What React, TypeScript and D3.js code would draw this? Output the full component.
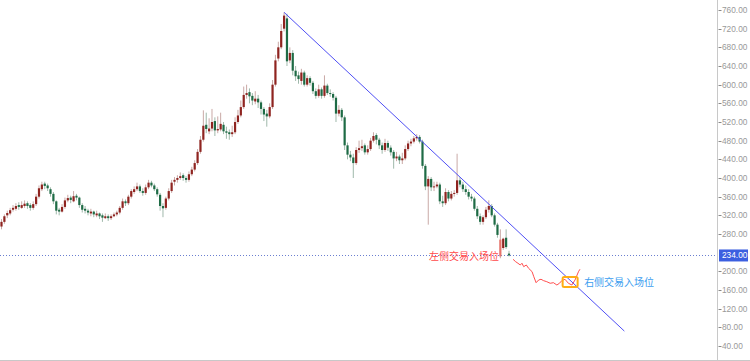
import React from "react";
import * as d3 from "d3";

// [open, high, low, close]
const candles: [number, number, number, number][] = [
  [296, 312, 290, 306], [306, 322, 302, 318], [320, 330, 314, 325], [324, 336, 320, 331],
  [332, 342, 328, 336], [334, 346, 330, 340], [342, 348, 332, 338], [336, 350, 334, 342],
  [340, 352, 336, 345], [346, 350, 334, 340], [342, 346, 330, 336], [336, 350, 332, 344],
  [344, 366, 340, 360], [360, 384, 356, 378], [376, 392, 372, 386], [388, 392, 376, 383],
  [384, 388, 372, 378], [376, 380, 360, 366], [366, 370, 344, 350], [350, 352, 322, 330],
  [332, 336, 320, 328], [328, 344, 326, 338], [338, 358, 334, 352], [352, 364, 348, 357],
  [358, 362, 346, 353], [350, 372, 348, 361], [362, 366, 352, 358], [358, 360, 336, 342],
  [342, 346, 326, 332], [334, 340, 324, 330], [330, 334, 320, 326], [324, 334, 318, 328],
  [328, 330, 316, 322], [320, 330, 316, 324], [324, 326, 312, 318], [320, 324, 306, 315],
  [314, 324, 312, 318], [318, 322, 308, 314], [314, 322, 310, 318], [318, 326, 316, 322],
  [322, 330, 318, 326], [326, 340, 322, 336], [336, 356, 332, 350], [350, 354, 340, 346],
  [346, 364, 342, 360], [360, 376, 356, 372], [370, 382, 366, 376], [376, 390, 372, 382],
  [382, 386, 368, 372], [372, 378, 362, 368], [368, 386, 364, 380], [380, 396, 376, 390],
  [390, 394, 380, 384], [384, 388, 372, 376], [376, 380, 360, 365], [364, 368, 330, 340],
  [340, 346, 316, 335], [336, 360, 332, 356], [356, 378, 352, 372], [372, 396, 368, 390],
  [392, 402, 384, 396], [396, 406, 390, 400], [400, 412, 396, 404], [406, 410, 394, 400],
  [400, 404, 390, 396], [396, 414, 392, 408], [408, 424, 404, 418], [418, 438, 414, 432],
  [432, 462, 428, 456], [456, 490, 452, 482], [482, 545, 478, 512], [514, 540, 496, 505],
  [500, 528, 494, 506], [506, 548, 500, 520], [522, 530, 490, 502], [502, 532, 496, 505],
  [504, 540, 500, 516], [514, 520, 494, 500], [500, 510, 484, 497], [498, 504, 482, 494],
  [494, 512, 488, 498], [498, 530, 494, 520], [520, 546, 516, 534], [534, 566, 530, 552],
  [552, 596, 548, 578], [578, 600, 570, 582], [584, 592, 560, 575], [576, 582, 556, 566],
  [564, 586, 558, 570], [570, 578, 550, 562], [562, 566, 536, 548], [548, 552, 522, 536],
  [538, 546, 510, 532], [532, 560, 528, 552], [552, 610, 548, 600], [600, 664, 596, 652],
  [656, 692, 650, 680], [680, 730, 676, 715], [720, 755, 714, 748], [742, 752, 640, 650],
  [652, 680, 646, 668], [668, 674, 620, 630], [630, 640, 608, 618], [620, 628, 602, 612],
  [608, 634, 600, 626], [626, 630, 596, 600], [600, 620, 596, 614], [614, 618, 598, 604],
  [604, 608, 580, 586], [586, 592, 570, 576], [576, 600, 572, 590], [590, 594, 570, 576],
  [576, 620, 572, 598], [598, 602, 578, 582], [582, 590, 574, 580], [580, 584, 566, 572],
  [572, 576, 520, 538], [538, 556, 532, 546], [546, 550, 522, 530], [530, 534, 460, 470],
  [470, 476, 440, 450], [450, 458, 436, 444], [444, 452, 400, 432], [432, 466, 428, 460],
  [460, 480, 454, 464], [464, 482, 458, 468], [470, 474, 450, 455], [455, 470, 450, 462],
  [462, 486, 458, 480], [480, 498, 476, 490], [492, 496, 472, 482], [482, 486, 462, 470],
  [470, 476, 452, 460], [460, 484, 456, 475], [475, 480, 458, 465], [465, 470, 448, 455],
  [456, 460, 420, 442], [442, 456, 436, 446], [446, 450, 430, 438], [438, 454, 430, 442],
  [442, 470, 438, 462], [462, 480, 458, 474], [474, 484, 468, 478], [478, 490, 474, 485],
  [485, 494, 480, 488], [488, 492, 474, 478], [478, 482, 420, 426], [426, 430, 374, 382],
  [382, 404, 300, 398], [398, 402, 372, 380], [380, 392, 372, 382], [382, 392, 378, 386],
  [386, 390, 344, 350], [350, 362, 338, 346], [346, 378, 342, 370], [370, 374, 350, 356],
  [356, 372, 352, 366], [366, 374, 360, 368], [368, 452, 364, 395], [395, 402, 380, 386],
  [386, 392, 370, 376], [376, 384, 364, 370], [370, 376, 354, 360], [360, 366, 350, 356],
  [356, 360, 330, 334], [334, 340, 312, 318], [318, 324, 300, 306], [306, 320, 300, 316],
  [316, 338, 312, 332], [332, 352, 326, 340], [340, 344, 316, 320], [320, 324, 296, 300],
  [300, 304, 272, 278], [232, 290, 228, 268], [250, 272, 246, 270], [272, 290, 248, 252],
  [238, 244, 232, 234],
];

const yTicks = [760, 720, 680, 640, 600, 560, 520, 480, 440, 400, 360, 320, 280, 200, 160, 120, 80, 40];
const lastPrice = 234;
const trendLine: [number, number][] = [[98, 755], [216, 72]];
const projection: [number, number][] = [
  [177.4, 225.8], [178.3, 220.7], [179.1, 217.3], [179.9, 213.6], [180.5, 217.3], [181.1, 210],
  [182, 213.6], [182.8, 206.5], [184, 199.3], [184.6, 188.5], [185.4, 175.7], [186.3, 181.5],
  [187.1, 183], [188, 180], [189.1, 177.8], [190.3, 174.4], [191.4, 175.7], [192.6, 170.7],
  [193.5, 174.4], [194.3, 180], [195.4, 183], [196.6, 174.4], [197.8, 170.7], [198.9, 181.5],
  [200.1, 199.3], [200.6, 204.4],
];
const rightEntry: [number, number] = [197.2, 177];
const leftEntryIndex = 175;
const leftLabel = "左侧交易入场位";
const rightLabel = "右侧交易入场位";

export default function App() {
  const W = 750, H = 361;
  const axisX = 717.5;
  const x = d3.scaleLinear().domain([0, candles.length - 1]).range([1.5, 509]);
  const y = d3.scaleLinear().domain([40, 760]).range([346, 10]);
  const bw = 2.2;
  const line = d3.line<[number, number]>().x((d) => x(d[0])).y((d) => y(d[1]));
  const font = "'Liberation Sans', Arial, sans-serif";
  const cjk = "'Noto Sans CJK SC', sans-serif";

  return (
    <svg width={W} height={H} style={{ position: "absolute", left: 0, top: 0, background: "#fff" }}>
      <defs>
        <clipPath id="plot">
          <rect x={0} y={0} width={axisX} height={H} />
        </clipPath>
      </defs>
      {/* last price dotted line */}
      <line x1={0} x2={axisX} y1={Math.round(y(lastPrice)) + 0.5} y2={Math.round(y(lastPrice)) + 0.5}
        stroke="#6b7fd0" strokeWidth={1} strokeDasharray="1,2" />
      {/* candles */}
      <g clipPath="url(#plot)">
        {candles.map((c, i) => {
          const [o, h, l, cl] = c;
          const up = cl >= o;
          const prev = i > 0 ? candles[i - 1][3] : o;
          const strong = up ? cl >= prev : cl <= prev;
          const col = up ? (strong ? "#8f2420" : "#e8756c") : (strong ? "#1e6b45" : "#2fd98a");
          const cx = x(i);
          const top = y(Math.max(o, cl));
          const bot = y(Math.min(o, cl));
          return (
            <g key={i}>
              <line x1={cx} x2={cx} y1={y(h)} y2={y(l)} stroke={up ? "#c9a9a6" : "#9fb8aa"} strokeWidth={1} />
              <rect x={cx - bw / 2} y={top} width={bw} height={Math.max(1, bot - top)} fill={col} />
            </g>
          );
        })}
        <path d={line(trendLine) || ""} stroke="#5050f5" strokeWidth={1} fill="none" />
        <path d={line(projection) || ""} stroke="#ff3a3a" strokeWidth={0.9} fill="none" />
        <rect x={x(rightEntry[0]) - 7.5} y={y(rightEntry[1]) - 5} width={15} height={10} rx={1.5}
          fill="none" stroke="#ffad14" strokeWidth={2} />
      </g>
      <text x={x(leftEntryIndex) - 7} y={y(lastPrice) + 5} textAnchor="end" fontFamily={cjk} fontSize={10}
        fill="#ff4a4a">{leftLabel}</text>
      <text x={x(rightEntry[0]) + 14} y={y(rightEntry[1]) + 4} fontFamily={cjk} fontSize={10}
        fill="#3d9ef0">{rightLabel}</text>
      {/* axis */}
      <line x1={axisX} x2={axisX} y1={0} y2={H} stroke="#c8c8c8" strokeWidth={1} />
      <line x1={0} x2={W} y1={H - 0.5} y2={H - 0.5} stroke="#c8c8c8" strokeWidth={1} />
      {yTicks.map((t) => (
        <g key={t}>
          <line x1={axisX + 1} x2={axisX + 4} y1={Math.round(y(t)) + 0.5} y2={Math.round(y(t)) + 0.5} stroke="#888" />
          <text x={722} y={y(t) + 3} fontFamily={font} fontSize={8.3} fill="#999">{d3.format(".2f")(t)}</text>
        </g>
      ))}
      <rect x={719} y={y(lastPrice) - 6} width={29} height={12} fill="#3c5fe0" />
      <text x={722} y={y(lastPrice) + 3} fontFamily={font} fontSize={8.3} fill="#fff">{d3.format(".2f")(lastPrice)}</text>
    </svg>
  );
}
